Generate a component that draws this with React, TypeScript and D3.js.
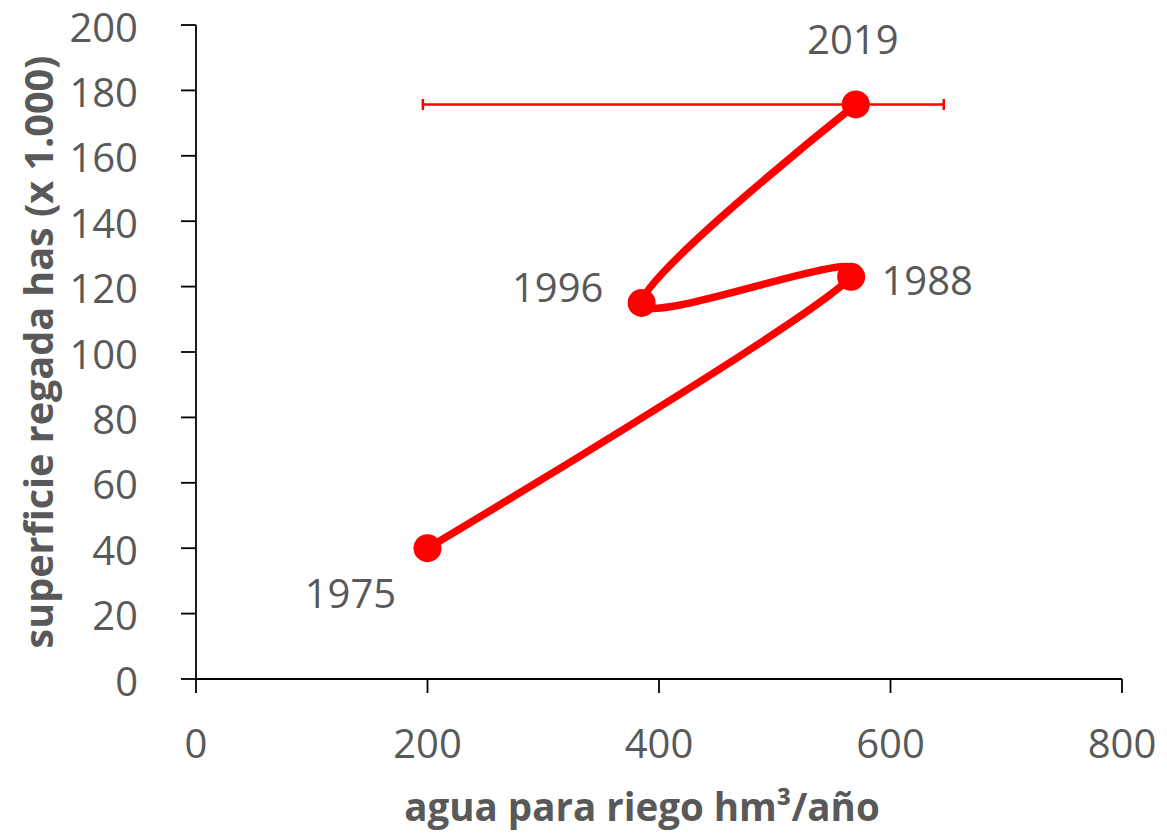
import React from "react";
import * as d3 from "d3";

// ---- data ----
const years: string[] = ["1975", "1988", "1996", "2019"];
const water: number[] = [200, 566, 385, 570]; // hm3/año
const area: number[] = [40, 123, 115, 175.7]; // has x 1000
const xErrMinus: number[] = [0, 0, 0, 374];
const xErrPlus: number[] = [0, 0, 0, 76];
const xTicks: number[] = [0, 200, 400, 600, 800];
const yTicks: number[] = [0, 20, 40, 60, 80, 100, 120, 140, 160, 180, 200];
const xTitle = "agua para riego hm³/año";
const yTitle = "superficie regada has (x 1.000)";

// ---- layout / style ----
const W = 1167;
const H = 836;
const left = 196;
const right = 1122;
const top = 25;
const bottom = 679;
const RED = "#FF0000";
const TXT = "#595959";
const FONT = "'Open Sans', 'Segoe UI', sans-serif";
const labelOffsets: Record<string, [number, number]> = {
  "1975": [-77, 44],
  "1988": [76, 3],
  "1996": [-84, -16],
  "2019": [-3, -66],
};

export default function App() {
  const x = d3.scaleLinear().domain([0, 800]).range([left, right]);
  const y = d3.scaleLinear().domain([0, 200]).range([bottom, top]);
  const pts: [number, number][] = water.map((w, i) => [x(w), y(area[i])]);
  const line = d3.line().curve(d3.curveCardinal.tension(0));
  const path = line(pts) || "";

  return (
    <svg
      width={W}
      height={H}
      style={{ position: "absolute", left: 0, top: 0, background: "#fff" }}
      fontFamily={FONT}
    >
      <rect x={0} y={0} width={W} height={H} fill="#fff" />
      {/* axes */}
      <g stroke="#000" strokeWidth={1.8}>
        <line x1={left} x2={left} y1={top} y2={bottom} />
        <line x1={left} x2={right} y1={bottom} y2={bottom} />
        {yTicks.map((t) => (
          <line key={"yt" + t} x1={left - 15} x2={left} y1={y(t)} y2={y(t)} />
        ))}
        {xTicks.map((t) => (
          <line key={"xt" + t} x1={x(t)} x2={x(t)} y1={bottom} y2={bottom + 14} />
        ))}
      </g>
      {yTicks.map((t) => (
        <text
          key={"yl" + t}
          x={left - 58}
          y={y(t) + 1}
          textAnchor="end"
          dominantBaseline="central"
          fontSize={40}
          fill={TXT}
        >
          {t}
        </text>
      ))}
      {xTicks.map((t) => (
        <text
          key={"xl" + t}
          x={x(t)}
          y={742}
          textAnchor="middle"
          dominantBaseline="central"
          fontSize={40}
          fill={TXT}
        >
          {t}
        </text>
      ))}
      <text
        x={642}
        y={821}
        textAnchor="middle"
        fontSize={38.5}
        fontWeight="bold"
        fill={TXT}
      >
        {xTitle}
      </text>
      <text
        transform={`translate(53, ${(top + bottom) / 2}) rotate(-90)`}
        textAnchor="middle"
        fontSize={39.5}
        fontWeight="bold"
        fill={TXT}
      >
        {yTitle}
      </text>
      {/* error bars */}
      {water.map((w, i) =>
        xErrMinus[i] || xErrPlus[i] ? (
          <g key={"eb" + i} stroke={RED} strokeWidth={2.5}>
            <line
              x1={x(w - xErrMinus[i])}
              x2={x(w + xErrPlus[i])}
              y1={y(area[i])}
              y2={y(area[i])}
            />
            <line
              x1={x(w - xErrMinus[i])}
              x2={x(w - xErrMinus[i])}
              y1={y(area[i]) - 5.5}
              y2={y(area[i]) + 5.5}
            />
            <line
              x1={x(w + xErrPlus[i])}
              x2={x(w + xErrPlus[i])}
              y1={y(area[i]) - 5.5}
              y2={y(area[i]) + 5.5}
            />
          </g>
        ) : null
      )}
      {/* line */}
      <path d={path} fill="none" stroke={RED} strokeWidth={7.5} strokeLinejoin="round" strokeLinecap="round" />
      {pts.map((p, i) => (
        <circle key={"m" + i} cx={p[0]} cy={p[1]} r={14} fill={RED} />
      ))}
      {pts.map((p, i) => (
        <text
          key={"dl" + i}
          x={p[0] + labelOffsets[years[i]][0]}
          y={p[1] + labelOffsets[years[i]][1]}
          textAnchor="middle"
          dominantBaseline="central"
          fontSize={40}
          fill={TXT}
        >
          {years[i]}
        </text>
      ))}
    </svg>
  );
}
